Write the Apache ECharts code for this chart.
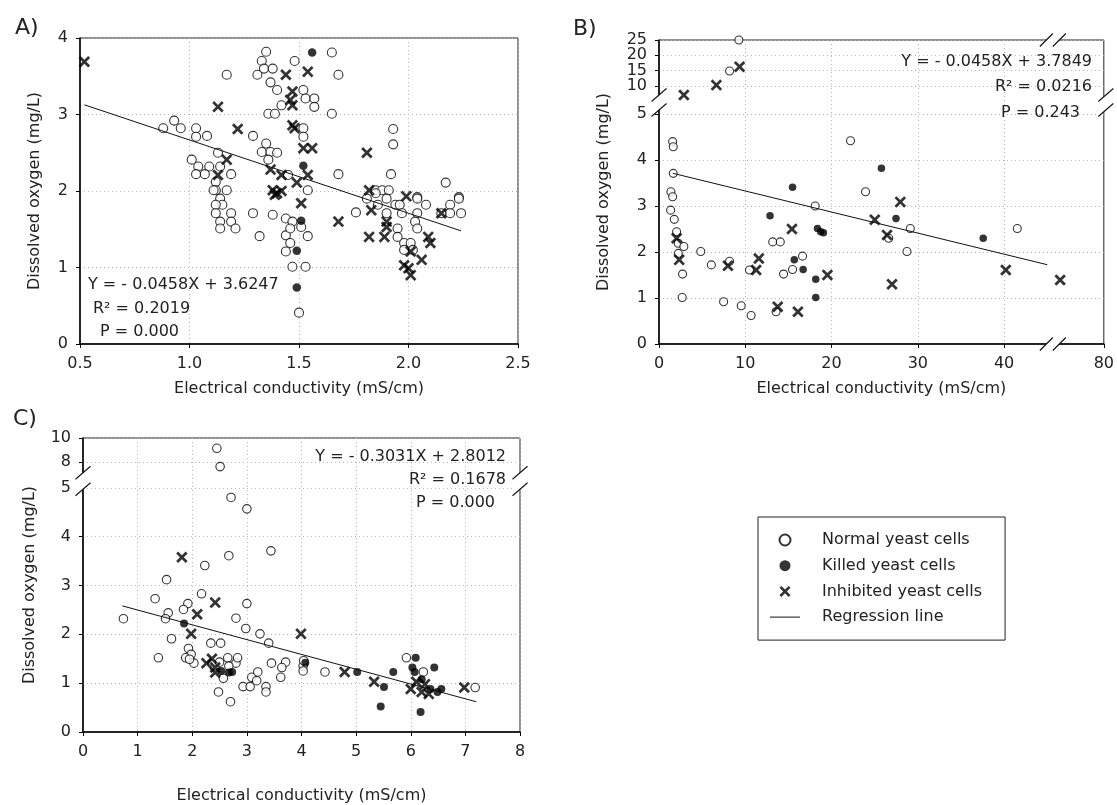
<!DOCTYPE html>
<html>
<head>
<meta charset="utf-8">
<script src="https://cdn.jsdelivr.net/npm/echarts@6/dist/echarts.min.js"></script>
<style>
  html, body { margin: 0; padding: 0; background: #fff; }
  #chart { width: 1117px; height: 805px; }
</style>
</head>
<body>
<div id="chart"></div>
<script>
// ---------------- data: [conductivity mS/cm, dissolved oxygen mg/L] ----------------
const normalA = [
  [1.17,3.52],[0.88,2.82],[0.93,2.92],[0.96,2.82],[1.03,2.82],[1.03,2.71],[1.08,2.72],[1.29,2.72],
  [1.13,2.50],[1.01,2.41],[1.04,2.32],[1.09,2.32],[1.14,2.32],[1.03,2.22],[1.07,2.22],[1.19,2.22],
  [1.12,2.12],[1.12,2.01],[1.17,2.01],[1.35,2.62],[1.33,2.51],[1.37,2.51],[1.40,2.50],[1.45,2.21],
  [1.35,3.82],[1.33,3.70],[1.34,3.60],[1.38,3.60],[1.31,3.52],[1.37,3.42],[1.40,3.32],[1.36,3.01],
  [1.39,3.01],[1.48,3.70],[1.42,3.12],[1.65,3.81],[1.68,3.52],[1.52,3.32],[1.53,3.21],[1.57,3.21],
  [1.57,3.10],[1.65,3.01],[1.52,2.82],[1.52,2.71],[1.93,2.81],[1.93,2.61],[1.36,2.41],[1.68,2.22],
  [1.92,2.22],[2.17,2.11],[1.54,2.01],[1.85,2.01],[1.88,2.01],[1.91,2.01],[2.04,1.92],[2.23,1.92],
  [1.11,2.01],[1.14,1.90],[1.15,1.82],[1.12,1.82],[1.12,1.71],[1.19,1.71],[1.14,1.60],[1.19,1.60],
  [1.14,1.51],[1.21,1.51],[1.29,1.71],[1.32,1.41],[1.38,1.69],[1.44,1.64],[1.44,1.42],[1.46,1.32],
  [1.44,1.21],[1.47,1.01],[1.50,0.41],[1.47,1.60],[1.46,1.51],[1.51,1.53],[1.54,1.41],[1.53,1.01],
  [1.76,1.72],[1.81,1.90],[1.85,1.97],[1.90,1.90],[1.86,1.82],[1.90,1.71],[1.94,1.82],[1.96,1.82],
  [1.97,1.71],[2.04,1.90],[2.04,1.71],[2.08,1.82],[2.03,1.60],[2.04,1.51],[1.95,1.51],[1.95,1.40],
  [1.98,1.32],[1.98,1.23],[2.01,1.32],[2.02,1.23],[2.19,1.82],[2.23,1.90],[2.24,1.71],[2.19,1.71],
  [2.15,1.71]
];
const killedA = [[1.56,3.81],[1.52,2.33],[1.51,1.61],[1.49,1.22],[1.49,0.74]];
const inhibitedA = [
  [0.52,3.69],[1.13,3.10],[1.22,2.81],[1.17,2.41],[1.13,2.21],[1.37,2.28],[1.42,2.21],[1.49,2.11],
  [1.38,2.01],[1.40,1.97],[1.42,2.00],[1.39,1.95],[1.44,3.52],[1.54,3.56],[1.47,3.30],[1.46,3.19],
  [1.47,3.12],[1.47,2.86],[1.48,2.82],[1.52,2.56],[1.56,2.56],[1.81,2.50],[1.54,2.21],[1.51,1.84],
  [1.68,1.60],[1.82,2.01],[1.99,1.93],[1.83,1.75],[1.82,1.40],[1.89,1.40],[1.90,1.53],[1.90,1.60],
  [2.09,1.40],[2.10,1.32],[2.01,1.21],[2.06,1.10],[1.98,1.03],[2.00,0.99],[2.01,0.90],[2.15,1.71]
];

const normalB = [
  [9.26,25.0],[8.18,14.9],[1.58,4.40],[1.65,4.29],[1.65,3.71],[1.38,3.31],[1.58,3.20],[1.35,2.91],
  [1.77,2.71],[2.04,2.44],[2.23,2.19],[2.88,2.12],[2.23,1.97],[2.73,1.52],[2.69,1.01],[4.84,2.01],
  [6.07,1.72],[8.18,1.80],[7.49,0.92],[9.53,0.83],[10.68,0.62],[10.49,1.61],[13.18,2.22],[14.06,2.22],
  [18.10,3.00],[16.64,1.91],[15.48,1.62],[14.44,1.52],[13.57,0.70],[22.20,4.42],[23.94,3.31],[29.13,2.51],
  [26.63,2.30],[28.74,2.01],[41.53,2.51]
];
const killedB = [
  [12.87,2.79],[15.48,3.41],[18.37,2.51],[18.75,2.44],[19.06,2.42],[15.68,1.83],[16.71,1.62],
  [18.17,1.41],[18.17,1.01],[25.78,3.82],[27.47,2.73],[37.58,2.30]
];
const inhibitedB = [
  [2.88,7.06],[6.65,10.3],[9.34,16.3],[2.04,2.30],[2.34,1.83],[7.99,1.70],[11.26,1.61],[11.57,1.86],
  [15.41,2.50],[13.76,0.81],[16.10,0.70],[19.52,1.50],[27.97,3.09],[25.01,2.70],[26.43,2.37],
  [27.01,1.30],[40.20,1.61],[53.0,1.39]
];

const normalC = [
  [2.45,9.14],[2.51,7.61],[2.71,5.03],[3.00,4.57],[3.44,3.71],[2.67,3.61],[2.23,3.41],[1.53,3.12],
  [2.17,2.83],[1.32,2.73],[3.00,2.63],[1.92,2.63],[1.84,2.51],[1.56,2.44],[1.51,2.32],[0.74,2.32],
  [2.80,2.33],[2.98,2.12],[3.24,2.01],[3.40,1.82],[1.62,1.91],[2.34,1.82],[2.52,1.82],[1.38,1.52],
  [1.93,1.71],[1.98,1.59],[1.88,1.52],[2.03,1.41],[1.95,1.49],[2.50,1.43],[2.65,1.52],[2.80,1.41],
  [2.83,1.52],[2.67,1.35],[2.57,1.10],[2.48,0.82],[2.70,0.62],[2.93,0.93],[3.06,0.93],[3.09,1.12],
  [3.20,1.23],[3.35,0.93],[3.35,0.82],[3.18,1.05],[3.45,1.41],[3.71,1.43],[3.62,1.12],[3.64,1.32],
  [4.03,1.35],[4.03,1.25],[4.04,1.46],[4.43,1.23],[5.92,1.52],[6.23,1.23],[7.18,0.91]
];
const killedC = [
  [1.85,2.22],[2.53,1.25],[2.67,1.22],[2.73,1.23],[4.07,1.42],[5.02,1.23],[5.51,0.92],[5.45,0.52],
  [5.68,1.23],[6.09,1.52],[6.03,1.32],[6.07,1.23],[6.43,1.32],[6.20,1.08],[6.36,0.88],[6.49,0.82],
  [6.56,0.88],[6.18,0.41]
];
const inhibitedC = [
  [1.81,3.58],[2.42,2.65],[2.09,2.41],[1.98,2.01],[3.99,2.01],[2.36,1.50],[2.26,1.41],[2.42,1.22],
  [2.42,1.32],[4.79,1.23],[5.33,1.03],[6.00,0.88],[6.10,1.03],[6.26,0.98],[6.33,0.78],[6.20,0.82],
  [6.98,0.91]
];

// regression lines: slope, intercept and the x span they are drawn over
const regA = { slope: -0.958, intercept: 3.6247, from: 0.52, to: 2.24 };
const regB = { slope: -0.0458, intercept: 3.7849, from: 1.6, to: 45 };
const regC = { slope: -0.3031, intercept: 2.8012, from: 0.72, to: 7.2 };

// tick labels
const xTicksA = [0.5, 1.0, 1.5, 2.0, 2.5];
const yTicksA = [0, 1, 2, 3, 4];
const xTicksB = [0, 10, 20, 30, 40, 80];
const yTicksB = [0, 1, 2, 3, 4, 5, 10, 15, 20, 25];
const yTicksBAlt = [20];        // labelled on a second axis: too close to its neighbours
const xTicksC = [0, 1, 2, 3, 4, 5, 6, 7, 8];
const yTicksC = [0, 1, 2, 3, 4, 5, 8, 10];

const equations = {
  A: ['Y = - 0.0458X + 3.6247', 'R\u00b2 = 0.2019', 'P = 0.000'],
  B: ['Y = - 0.0458X + 3.7849', 'R\u00b2 = 0.0216', 'P = 0.243'],
  C: ['Y = - 0.3031X + 2.8012', 'R\u00b2 = 0.1678', 'P = 0.000']
};

const NAMES = ['Normal yeast cells', 'Killed yeast cells', 'Inhibited yeast cells', 'Regression line'];
const XTITLE = 'Electrical conductivity (mS/cm)';
const YTITLE = 'Dissolved oxygen (mg/L)';

// ---------------- broken scales ----------------
// values up to `lo` are plotted as they are; above the break, plotting resumes at
// display value `resumeAt` (for real value `anchor`) with a compressed slope `k`
function brokenScale(lo, anchor, resumeAt, k) {
  return v => (v <= lo ? v : resumeAt + (v - anchor) * k);
}
const ident = v => v;
const fxA = ident, fyA = ident;
const fxB = brokenScale(45, 45, 45, 6.56 / 35);
const fyB = brokenScale(5, 10, 5.609, 0.0667);
const fxC = ident;
const fyC = brokenScale(5, 8, 5.531, 0.245);

const FONT = 'DejaVu Sans';
const TXT = '#222';

// value axis whose ticks sit at `ticks` (real values) mapped through `f`;
// `labelTicks` selects which of them carry a label
function valueAxis(gridIndex, ticks, f, fmt, extra, labelTicks) {
  const vals = ticks.map(f);
  const labelled = (labelTicks || ticks).map(f);
  const label = v => {
    let best = 0;
    vals.forEach((d, i) => { if (Math.abs(d - v) < Math.abs(vals[best] - v)) best = i; });
    return fmt(ticks[best]);
  };
  return Object.assign({
    type: 'value',
    gridIndex,
    min: vals[0],
    max: vals[vals.length - 1],
    axisLine: { show: true, onZero: false, lineStyle: { color: '#000', width: 1.5 } },
    axisTick: { show: true, inside: false, length: 4, customValues: vals, lineStyle: { color: '#000', width: 1 } },
    axisLabel: {
      customValues: labelled, formatter: label, color: TXT, fontSize: 16, fontFamily: FONT,
      margin: 12, showMinLabel: true, showMaxLabel: true, hideOverlap: false
    },
    splitLine: { show: true, lineStyle: { color: '#b8b8b8', type: [1, 3], width: 1 } },
    nameTextStyle: { color: TXT, fontSize: 16, fontFamily: FONT },
    nameLocation: 'middle'
  }, extra);
}

const int = v => String(v);
const one = v => v.toFixed(1);

const grids = [
  { left: 80, top: 38, width: 438, height: 306 },
  { left: 659, top: 40, width: 447, height: 304 },
  { left: 83, top: 438, width: 437, height: 295 }
].map(g => Object.assign(g, { show: true, borderColor: '#222', borderWidth: 1, backgroundColor: 'transparent' }));

const xAxes = [
  valueAxis(0, xTicksA, fxA, one, { name: XTITLE, nameGap: 37 }),
  valueAxis(1, xTicksB, fxB, int, { name: XTITLE, nameGap: 37 }),
  valueAxis(2, xTicksC, fxC, int, { name: XTITLE, nameGap: 56 })
];
const altB = valueAxis(1, yTicksB, fyB, int, { position: 'left', offset: 0 }, yTicksBAlt);
altB.axisLine = { show: false };
altB.axisTick = { show: false };
altB.splitLine = { show: false };
const yAxes = [
  valueAxis(0, yTicksA, fyA, int, { name: YTITLE, nameGap: 37 }),
  valueAxis(1, yTicksB, fyB, int, { name: YTITLE, nameGap: 47 }, yTicksB.filter(t => yTicksBAlt.indexOf(t) < 0)),
  valueAxis(2, yTicksC, fyC, int, { name: YTITLE, nameGap: 45 }),
  altB
];

const X_PATH = 'path://M0,1.7 L1.7,0 L5,3.3 L8.3,0 L10,1.7 L6.7,5 L10,8.3 L8.3,10 L5,6.7 L1.7,10 L0,8.3 L3.3,5 Z';

function panelSeries(gi, normal, killed, inhibited, reg, fx, fy, circleSize) {
  const map = arr => arr.map(p => [fx(p[0]), fy(p[1])]);
  const base = { type: 'scatter', xAxisIndex: gi, yAxisIndex: gi, clip: false, animation: false };
  return [
    Object.assign({}, base, {
      name: NAMES[0], data: map(normal), symbol: 'circle', symbolSize: circleSize,
      itemStyle: { color: '#fff', borderColor: '#000', borderWidth: 1.1 }
    }),
    Object.assign({}, base, {
      name: NAMES[1], data: map(killed), symbol: 'circle', symbolSize: circleSize - 0.5,
      itemStyle: { color: '#000', borderColor: '#000', borderWidth: 0 }
    }),
    Object.assign({}, base, {
      name: NAMES[2], data: map(inhibited), symbol: X_PATH, symbolSize: 11.5,
      itemStyle: { color: '#000', borderColor: '#000', borderWidth: 0 }
    }),
    {
      type: 'line', name: NAMES[3], xAxisIndex: gi, yAxisIndex: gi, animation: false,
      symbol: 'none', showSymbol: false, lineStyle: { color: '#111', width: 1 }, itemStyle: { color: '#111' },
      data: [reg.from, reg.to].map(x => [fx(x), fy(reg.intercept + reg.slope * x)])
    }
  ];
}

const series = [].concat(
  panelSeries(0, normalA, killedA, inhibitedA, regA, fxA, fyA, 9),
  panelSeries(1, normalB, killedB, inhibitedB, regB, fxB, fyB, 8),
  panelSeries(2, normalC, killedC, inhibitedC, regC, fxC, fyC, 8.5)
);

const chart = echarts.init(document.getElementById('chart'), null, { renderer: 'canvas' });

chart.setOption({
  backgroundColor: '#fff',
  animation: false,
  grid: grids,
  xAxis: xAxes,
  yAxis: yAxes,
  series,
  legend: {
    data: [
      { name: NAMES[0] },
      { name: NAMES[1] },
      { name: NAMES[2] },
      { name: NAMES[3], icon: 'path://M0,0 L30,0 L30,1 L0,1 Z', itemStyle: { color: '#111', borderWidth: 0 } }
    ],
    orient: 'vertical',
    left: 758,
    top: 517,
    padding: [15, 23, 15, 12],
    itemWidth: 30,
    itemHeight: 11,
    itemGap: 9.7,
    symbolKeepAspect: true,
    borderColor: '#222',
    borderWidth: 1,
    selectedMode: false,
    textStyle: { color: TXT, fontSize: 16, fontFamily: FONT, lineHeight: 16, padding: [0, 0, 0, 17] }
  }
});

// ---------------- annotations: panel letters, regression statistics, axis breaks ----------------
function text(x, y, str, align, size) {
  return {
    type: 'text', x, y, silent: true, z: 100,
    style: {
      text: str, fill: TXT, font: (size || 16) + 'px "' + FONT + '"',
      align: align, verticalAlign: 'middle', textAlign: align, textVerticalAlign: 'middle'
    }
  };
}

const px = (gi, x, y) => chart.convertToPixel({ gridIndex: gi }, [x, y]);

// a pair of slashes crossing an axis line at (cx, cy), with a white gap between them
function breakMark(cx, cy, vertical, w, h, sep) {
  const els = [];
  const offs = [-sep / 2, sep / 2];
  const pts = offs.map(o => vertical
    ? [[cx - w / 2, cy + o + h / 2], [cx + w / 2, cy + o - h / 2]]
    : [[cx + o - w / 2, cy + h / 2], [cx + o + w / 2, cy - h / 2]]);
  els.push({
    type: 'polygon', silent: true, z: 99,
    shape: { points: [pts[0][0], pts[0][1], pts[1][1], pts[1][0]] },
    style: { fill: '#fff' }
  });
  pts.forEach(p => els.push({
    type: 'line', silent: true, z: 100,
    shape: { x1: p[0][0], y1: p[0][1], x2: p[1][0], y2: p[1][1] },
    style: { stroke: '#111', lineWidth: 1.1 }
  }));
  return els;
}

const g = [];
g.push(text(15, 28, 'A)', 'left', 22), text(573, 29, 'B)', 'left', 22), text(13, 419, 'C)', 'left', 22));

g.push(text(88, 285, equations.A[0], 'left'), text(93, 309, equations.A[1], 'left'), text(100, 332, equations.A[2], 'left'));
g.push(text(1092, 62, equations.B[0], 'right'), text(1092, 87, equations.B[1], 'right'), text(1080, 113, equations.B[2], 'right'));
g.push(text(506, 457, equations.C[0], 'right'), text(506, 480, equations.C[1], 'right'), text(495, 503, equations.C[2], 'right'));

// panel B: y break between 5 and 10, x break before 80
const bL = px(1, 0, 5.25), bR = px(1, fxB(80), 5.25);
const bB = px(1, 45.65, 0), bT = px(1, 45.65, fyB(25));
g.push(...breakMark(bL[0], bL[1], true, 15, 13, 15));
g.push(...breakMark(bR[0] + 2, bR[1], true, 15, 13, 15));
g.push(...breakMark(bB[0], bB[1], false, 13, 13, 13));
g.push(...breakMark(bT[0], bT[1], false, 13, 13, 13));
// panel C: y break between 5 and 8
const cL = px(2, 0, 5.14), cR = px(2, 8, 5.14);
g.push(...breakMark(cL[0], cL[1], true, 15, 13, 16.5));
g.push(...breakMark(cR[0], cR[1], true, 15, 13, 16.5));

chart.setOption({ graphic: g });
</script>
</body>
</html>
